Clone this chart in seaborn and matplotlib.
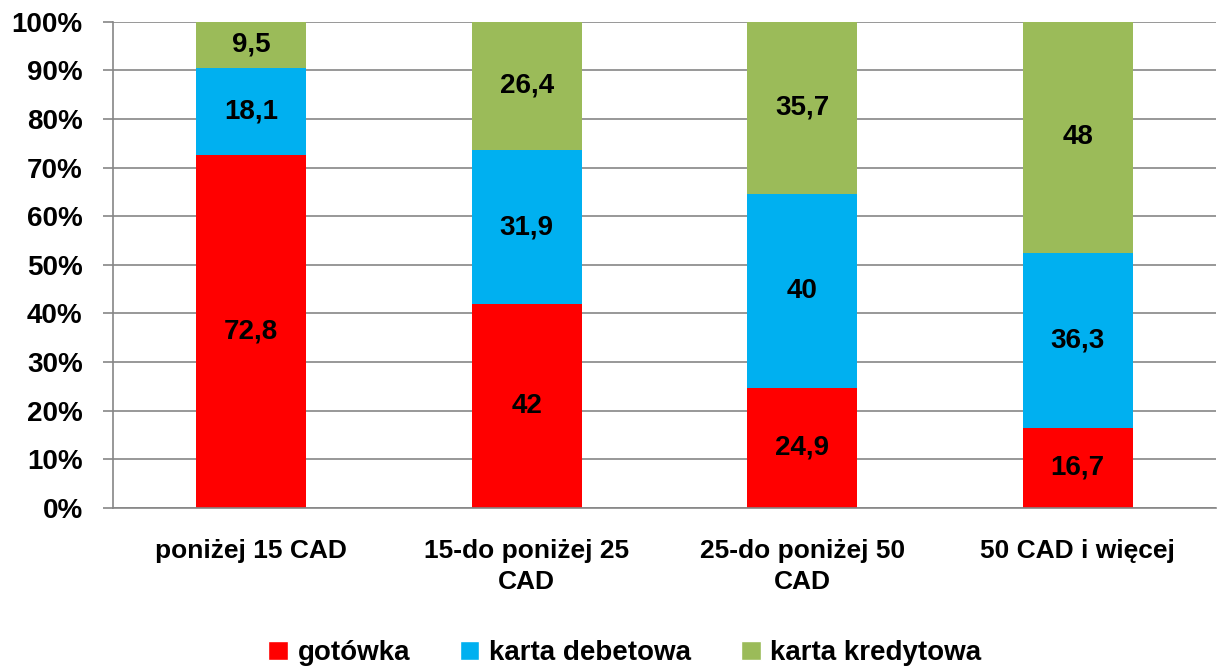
import matplotlib
matplotlib.use("Agg")
import matplotlib.pyplot as plt
import seaborn as sns
import numpy as np
import pandas as pd
from matplotlib.patches import Patch

sns.set_style("white")
plt.rcParams['font.family'] = ['Liberation Sans', 'DejaVu Sans']
plt.rcParams['font.weight'] = 'bold'
plt.rcParams['text.color'] = 'black'
plt.rcParams['xtick.color'] = 'black'
plt.rcParams['ytick.color'] = 'black'

categories = ["poniżej 15 CAD", "15-do poniżej 25\nCAD", "25-do poniżej 50\nCAD", "50 CAD i więcej"]
gotowka = [72.8, 42, 24.9, 16.7]
debetowa = [18.1, 31.9, 40, 36.3]
kredytowa = [9.5, 26.4, 35.7, 48]
series_names = ["gotówka", "karta debetowa", "karta kredytowa"]
colors = ["#FF0000", "#00B0F0", "#9BBB59"]

vals = np.array([gotowka, debetowa, kredytowa], dtype=float)
pct = vals / vals.sum(axis=0) * 100
cum = np.cumsum(pct, axis=0)


def fmt(v):
    return ("%g" % v).replace(".", ",")


fig = plt.figure(figsize=(12.18, 6.68), dpi=100)
ax = fig.add_axes([0.093, 0.2395, 0.905, 0.728])

# tallest cumulative layer first so lower layers sit on top
for i in range(2, -1, -1):
    df = pd.DataFrame({"cat": categories, "val": cum[i]})
    sns.barplot(data=df, x="cat", y="val", color=colors[i], width=0.4,
                saturation=1, linewidth=0, ax=ax, zorder=2)

for i in range(3):
    bottoms = cum[i] - pct[i]
    for j in range(len(categories)):
        ax.text(j, bottoms[j] + pct[i][j] / 2, fmt(vals[i][j]),
                ha="center", va="center", fontsize=20, fontweight="bold", zorder=3)

ax.set_ylim(0, 100)
ax.set_xlim(-0.5, 3.5)
ax.set_yticks(np.arange(0, 101, 10))
ax.set_yticklabels(["%d%%" % v for v in range(0, 101, 10)], fontsize=20, fontweight="bold")
ax.yaxis.grid(True, color="#868686", linewidth=1.2)
ax.set_axisbelow(True)
ax.set_xlabel("")
ax.set_ylabel("")
ax.set_xticks(range(4))
ax.set_xticklabels(categories, fontsize=19, fontweight="bold", linespacing=1.4)
ax.tick_params(axis="x", length=0, pad=22)
ax.set_xticks(np.arange(-0.5, 4, 1), minor=True)
ax.tick_params(axis="x", which="minor", length=7, color="#868686", direction="out", width=1.2)
ax.tick_params(axis="y", length=7, color="#868686", direction="out", width=1.2, left=True, pad=15)
for s in ["top", "right"]:
    ax.spines[s].set_visible(False)
for s in ["left", "bottom"]:
    ax.spines[s].set_color("#868686")
    ax.spines[s].set_linewidth(1.2)

handles = [Patch(facecolor=c) for c in colors]
fig.legend(handles, series_names, loc="lower center", ncol=3, frameon=False,
           bbox_to_anchor=(0.513, -0.035), prop={"size": 20, "weight": "bold"},
           handlelength=0.7, handleheight=0.7, columnspacing=1.8, handletextpad=0.35)

fig.savefig("out.png", dpi=100)
